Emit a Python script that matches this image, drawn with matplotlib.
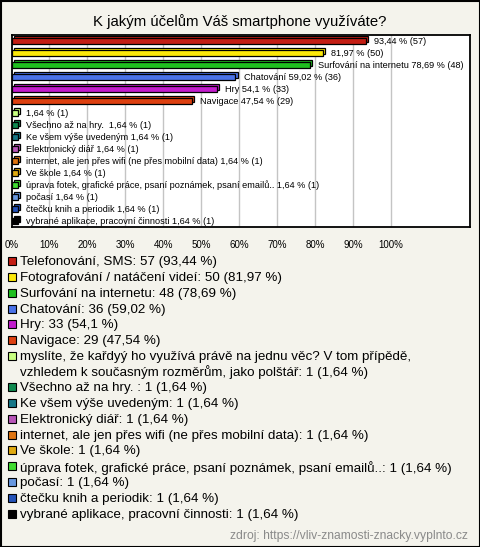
import matplotlib
matplotlib.use("Agg")
import matplotlib.pyplot as plt
from matplotlib.patches import Rectangle

# ---------------- data ----------------
title = "K jakým účelům Váš smartphone využíváte?"
legend_names = [
    "Telefonování, SMS",
    "Fotografování / natáčení videí",
    "Surfování na internetu",
    "Chatování",
    "Hry",
    "Navigace",
    "myslíte, že kařdyý ho využívá právě na jednu věc? V tom přípědě,\nvzhledem k současným rozměrům, jako polštář",
    "Všechno až na hry. ",
    "Ke všem výše uvedeným",
    "Elektronický diář",
    "internet, ale jen přes wifi (ne přes mobilní data)",
    "Ve škole",
    "úprava fotek, grafické práce, psaní poznámek, psaní emailů..",
    "počasí",
    "čtečku knih a periodik",
    "vybrané aplikace, pracovní činnosti",
]
bar_names = [
    "", "", "Surfování na internetu", "Chatování", "Hry", "Navigace", "",
    "Všechno až na hry. ", "Ke všem výše uvedeným", "Elektronický diář",
    "internet, ale jen přes wifi (ne přes mobilní data)", "Ve škole",
    "úprava fotek, grafické práce, psaní poznámek, psaní emailů..",
    "počasí", "čtečku knih a periodik", "vybrané aplikace, pracovní činnosti",
]
counts = [57, 50, 48, 36, 33, 29, 1, 1, 1, 1, 1, 1, 1, 1, 1, 1]
percents = ["93,44", "81,97", "78,69", "59,02", "54,1", "47,54",
            "1,64", "1,64", "1,64", "1,64", "1,64", "1,64", "1,64", "1,64", "1,64", "1,64"]
values = [93.44, 81.97, 78.69, 59.02, 54.1, 47.54,
          1.64, 1.64, 1.64, 1.64, 1.64, 1.64, 1.64, 1.64, 1.64, 1.64]
colors = ["#c41e14", "#fbe80a", "#1fbf1f", "#4a72e8", "#c21ccc", "#dd4010",
          "#c8ff80", "#0f8a50", "#167888", "#b856b8", "#de7410", "#e0aa10",
          "#40dc30", "#6898e0", "#2452b8", "#000000"]
xticks = [0, 10, 20, 30, 40, 50, 60, 70, 80, 90, 100]
source = "zdroj: https://vliv-znamosti-znacky.vyplnto.cz"

# ---------------- figure ----------------
W, H = 480, 547
bg = "#f4f3ec"
fig = plt.figure(figsize=(W / 100, H / 100), dpi=100, facecolor=bg)
plt.rcParams['font.family'] = ['Liberation Sans', 'DejaVu Sans']

def fx(px):
    return px / W

def fy(py):
    return 1 - py / H

left, right, top, bottom = 11.5, 470, 35, 227
ax = fig.add_axes([fx(left), fy(bottom), fx(right) - fx(left), (bottom - top) / H])
ax.set_facecolor("white")
px_per_pct = 3.795
ax.set_xlim(0, (right - left) / px_per_pct)
n = len(values)
ax.set_ylim(n - 0.5, -0.5)
ax.set_yticks([])
ax.set_xticks(xticks)
ax.set_xticklabels([f"{t}%" for t in xticks], fontsize=7)
ax.tick_params(axis="x", length=0, pad=9)
for t in xticks[1:]:
    ax.axvline(t, color="#c4c4c4", lw=1, zorder=0)
for s in ax.spines.values():
    s.set_color("black")
    s.set_linewidth(1.3)

bh = 0.44
dx, dy = 0.55, 0.16
for i, (v, c) in enumerate(zip(values, colors)):
    ax.add_patch(Rectangle((dx, i - bh / 2 - dy), v, bh, facecolor=c,
                           edgecolor="black", lw=0.9, zorder=2))
    ax.add_patch(Rectangle((0, i - bh / 2), v, bh, facecolor=c,
                           edgecolor="black", lw=0.9, zorder=3))
    name = bar_names[i]
    lab = (name + " " if name else "") + f"{percents[i]} % ({counts[i]})"
    ax.annotate(lab, (v + dx, i), xytext=(4.5, 0), textcoords="offset points",
                fontsize=6.6, va="center", ha="left", zorder=4)

# title
fig.text(0.5, fy(26), title, fontsize=10.7, ha="center", va="baseline")

# legend
y0, step, wrap = 261, 15.85, 15.0
for i, (name, c) in enumerate(zip(legend_names, colors)):
    y = y0 + i * step + (wrap if i > 6 else 0)
    fig.patches.append(Rectangle((fx(8), fy(y + 4)), fx(8), 8 / H, facecolor=c,
                                 edgecolor="black", lw=0.8,
                                 transform=fig.transFigure, figure=fig))
    fig.text(fx(20.5), fy(y - 5), f"{name}: {counts[i]} ({percents[i]} %)",
             fontsize=9.6, ha="left", va="top", linespacing=1.2)

fig.text(fx(468), fy(536), source, fontsize=8.7, color="#8a8a8a",
         ha="right", va="center")

fig.patches.append(Rectangle((0.5 / W, 0.5 / H), 1 - 1 / W, 1 - 1 / H, fill=False,
                             edgecolor="black", lw=1.5,
                             transform=fig.transFigure, figure=fig))

fig.savefig("out.png", dpi=100, facecolor=bg)
